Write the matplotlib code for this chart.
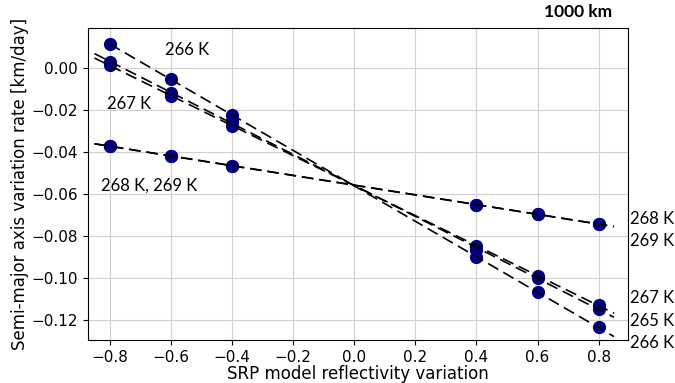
import numpy as np
import matplotlib
matplotlib.use('Agg')
import matplotlib.pyplot as plt

# reflectivity variation (x) and semi-major axis rate [km/day] per temperature
refl = [-0.8, -0.6, -0.4, 0.4, 0.6, 0.8]
rate_265 = [0.0030, -0.0120, -0.0255, -0.0865, -0.1000, -0.1145]
rate_266 = [0.0115, -0.0055, -0.0225, -0.0900, -0.1067, -0.1235]
rate_267 = [0.0015, -0.0135, -0.0275, -0.0848, -0.0990, -0.1128]
rate_268 = [-0.0371, -0.0419, -0.0467, -0.0652, -0.0695, -0.0743]
rate_269 = [-0.0371, -0.0419, -0.0467, -0.0652, -0.0695, -0.0743]
err = 0.0015

series = [rate_265, rate_266, rate_267, rate_268, rate_269]
lbl_font = 'Lato'

fig, ax = plt.subplots(figsize=(6.75, 3.83), dpi=100)
fig.subplots_adjust(left=0.13, right=0.93, top=0.927, bottom=0.112)

for i, s in enumerate(series):
    ax.errorbar(refl, s, yerr=err, fmt='o', color='navy', ms=8.5, ecolor='k',
                elinewidth=1, capsize=0, zorder=3)
    p = np.polyfit(refl, s, 1)
    x0 = -0.8 if s is rate_266 else -0.85
    xfit = np.linspace(x0, 0.85, 10)
    ax.plot(xfit, np.polyval(p, xfit), 'k--', lw=1.2, dashes=(7, 3.5), zorder=4)

ax.set_xlim(-0.872, 0.895)
ax.set_ylim(-0.1295, 0.019)
ax.set_xticks([-0.8, -0.6, -0.4, -0.2, 0.0, 0.2, 0.4, 0.6, 0.8])
ax.set_yticks([0.0, -0.02, -0.04, -0.06, -0.08, -0.10, -0.12])
ax.tick_params(labelsize=11)
ax.grid(True, color='#d0d0d0', lw=0.8)
ax.set_axisbelow(True)
ax.set_xlabel('SRP model reflectivity variation', fontsize=12, labelpad=0)
ax.set_ylabel('Semi-major axis variation rate [km/day]', fontsize=12, labelpad=2)

# labels inside
ax.text(-0.62, 0.0085, '266 K', fontsize=12, family=lbl_font, va='center')
ax.text(-0.81, -0.0172, '267 K', fontsize=12, family=lbl_font, va='center')
ax.text(-0.83, -0.0558, '268 K, 269 K', fontsize=12, family=lbl_font, va='center')

# labels to the right
for txt, yv in [('268 K,', -0.0715), ('269 K', -0.0825), ('267 K', -0.1095),
                ('265 K', -0.1205), ('266 K', -0.1310)]:
    ax.text(1.005, yv, txt, transform=ax.get_yaxis_transform(), fontsize=12,
            family=lbl_font, va='center', clip_on=False)

fig.text(0.907, 0.955, '1000 km', fontsize=12.5, family=lbl_font, weight='bold', ha='right')

fig.savefig('out.png', dpi=100)
